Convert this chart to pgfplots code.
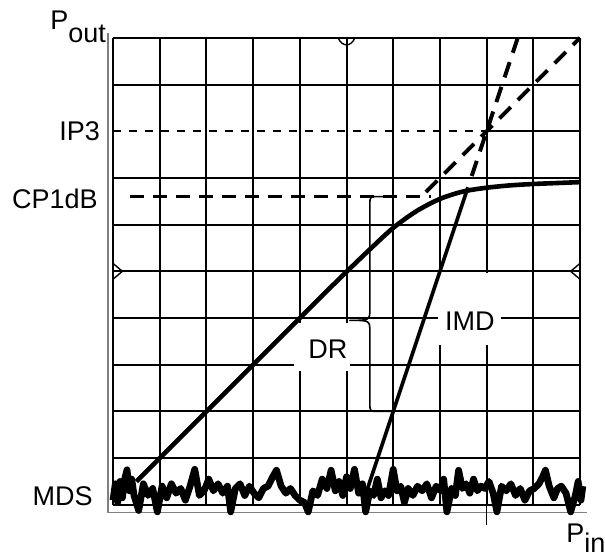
\documentclass[border=0pt]{standalone}
\usepackage{fontspec}
\setmainfont{Liberation Sans}
\usepackage{pgfplots}
\pgfplotsset{compat=1.18}

\begin{document}
\begin{tikzpicture}[
    line cap=butt,
    line join=round,
    font=\fontsize{13.5}{16}\selectfont
  ]
  \begin{axis}[
      x=23.35pt, y=23.35pt,
      xmin=0, xmax=10, ymin=0, ymax=10,
      axis line style={draw=none},
      xtick={0,...,10}, ytick={0,1,2,3,4,5,6,7,9,10},
      xticklabels={}, yticklabels={},
      major tick length=0pt,
      tick style={draw=none},
      grid=major,
      major grid style={black, line width=1pt},
      clip=false
    ]
    % bounding box corners (image 605x557)
    \coordinate (bbSW) at (axis cs:-2.42,-1.113);
    \coordinate (bbNE) at (axis cs:10.535,10.81);

    % grid line at IP3 level, right part only
    \draw[black, line width=1pt] (axis cs:8,8) -- (axis cs:10,8);

    % scope markers
    \draw[line width=0.7pt] (axis cs:4.82,10) .. controls (axis cs:4.9,9.8) and (axis cs:5.1,9.8) .. (axis cs:5.18,10);
    \draw[line width=0.7pt] (axis cs:0,5.17) -- (axis cs:0.2,5) -- (axis cs:0,4.83);
    \draw[line width=0.7pt] (axis cs:10,5.17) -- (axis cs:9.8,5) -- (axis cs:10,4.83);

    % outer axis lines
    \draw[gray, line width=0.7pt] (axis cs:-0.11,10.1) -- (axis cs:-0.11,-0.165) -- (axis cs:10.15,-0.165);
    \draw[black, line width=0.5pt] (axis cs:8,0) -- (axis cs:8,-0.43);

    % white boxes behind labels
    \fill[white] (axis cs:3.88,2.86) rectangle (axis cs:5.08,3.9);
    \fill[white] (axis cs:6.95,3.43) rectangle (axis cs:8.3,4.97);

    % reference levels
    \draw[black, line width=0.8pt, dash pattern=on 4pt off 4pt] (axis cs:0,8) -- (axis cs:8,8);
    \draw[black, line width=1.3pt, dash pattern=on 7pt off 4.5pt] (axis cs:0.36,6.6) -- (axis cs:6.8,6.6);

    % extrapolated lines
    \addplot[black, line width=2pt, dash pattern=on 8pt off 5pt] coordinates {(6.7,6.7) (10,10)};
    \addplot[black, line width=2pt, dash pattern=on 8pt off 5pt] coordinates {(7.68,7.04) (8.667,10)};

    % IMD line
    \addplot[black, line width=1.8pt] coordinates {(5.4,0.2) (7.6,6.8)};

    % gain curve
    \addplot[black, line width=2.3pt, smooth] coordinates {
      (0.5,0.5) (1,1) (2,2) (3,3) (4,4) (4.5,4.5)
      (5.0,4.99) (5.5,5.47) (6.0,5.93) (6.5,6.29) (7.0,6.55)
      (7.5,6.71) (8.0,6.79) (8.5,6.84) (9.0,6.87) (9.5,6.89) (10,6.91)
    };

    % brace
    \draw[black, line width=0.8pt] (axis cs:5.95,6.6) -- (axis cs:5.68,6.6)
      .. controls (axis cs:5.5,6.6) .. (axis cs:5.5,6.42) -- (axis cs:5.5,4.2)
      .. controls (axis cs:5.5,3.95) .. (axis cs:5.07,3.95)
      .. controls (axis cs:5.5,3.95) .. (axis cs:5.5,3.7) -- (axis cs:5.5,2.18)
      .. controls (axis cs:5.5,2.0) .. (axis cs:5.68,2.0) -- (axis cs:6.0,2.0);

    % noise floor
    \addplot[black, line width=3.4pt] coordinates {
      (0.00,0.10) (0.05,0.45) (0.10,0.05) (0.15,0.50) (0.20,0.15) (0.25,0.55)
      (0.30,0.75) (0.35,0.30) (0.40,0.55) (0.45,0.20) (0.55,-0.12) (0.65,0.45)
      (0.75,0.20) (0.85,0.35) (0.95,-0.15) (1.05,0.40) (1.15,0.15) (1.25,0.45)
      (1.35,0.25) (1.45,0.35) (1.55,0.10) (1.65,0.40) (1.75,0.76) (1.85,0.20)
      (1.95,0.30) (2.05,0.55) (2.15,0.30) (2.25,0.45) (2.35,0.25) (2.45,0.40)
      (2.52,-0.15) (2.62,0.35) (2.72,0.45) (2.82,0.20) (2.92,0.40) (3.02,0.25)
      (3.12,0.15) (3.22,0.35) (3.32,0.40) (3.42,0.60) (3.50,0.74) (3.60,0.40)
      (3.70,0.25) (3.80,0.35) (3.90,0.20) (4.00,0.10) (4.10,0.05) (4.18,-0.15)
      (4.28,0.30) (4.38,0.20) (4.48,0.55) (4.58,0.35) (4.67,0.74) (4.76,0.30)
      (4.84,0.50) (4.92,0.20) (5.00,0.60) (5.08,0.35) (5.17,0.76) (5.26,0.25)
      (5.34,0.45) (5.41,-0.15) (5.50,0.30) (5.58,0.20) (5.66,0.55) (5.74,0.15)
      (5.82,0.30) (5.90,0.20) (6.00,0.76) (6.08,0.30) (6.16,0.40) (6.24,0.05)
      (6.32,0.35) (6.42,0.20) (6.52,0.40) (6.62,0.30) (6.72,0.45) (6.82,0.15)
      (6.92,0.40) (7.02,0.30) (7.08,0.55) (7.15,-0.15) (7.25,0.35) (7.33,0.20)
      (7.40,0.74) (7.48,0.35) (7.56,0.45) (7.64,0.25) (7.72,0.55) (7.80,0.30)
      (7.88,0.40) (7.96,0.35) (8.05,0.50) (8.14,0.25) (8.22,-0.15) (8.32,0.40)
      (8.42,0.30) (8.52,0.45) (8.62,0.20) (8.72,0.35) (8.82,0.10) (8.92,0.30)
      (9.02,0.35) (9.12,0.45) (9.20,0.60) (9.26,0.74) (9.34,0.40) (9.44,0.15)
      (9.52,0.35) (9.60,0.40) (9.70,0.25) (9.80,-0.15) (9.90,0.20) (9.96,0.50)
      (10.02,0.10) (10.06,0.40)
    };

    % labels
    \node[anchor=base west, inner sep=0pt] at (axis cs:-1.35,10.17) {P\raisebox{-0.45em}{out}};
    \node[anchor=base west, inner sep=0pt] at (axis cs:9.7,-0.8) {P\raisebox{-0.4em}{in}};
    \node[anchor=east, inner sep=0pt] at (axis cs:-0.27,8) {IP3};
    \node[anchor=east, inner sep=0pt] at (axis cs:-0.32,6.55) {CP1dB};
    \node[anchor=east, inner sep=0pt] at (axis cs:-0.43,0.19) {MDS};
    \node[inner sep=0pt] at (axis cs:4.6,3.34) {DR};
    \node[inner sep=0pt] at (axis cs:7.64,3.94) {IMD};
  \end{axis}
  \pgfresetboundingbox
  \path[use as bounding box] (bbSW) rectangle (bbNE);
\end{tikzpicture}
\end{document}
